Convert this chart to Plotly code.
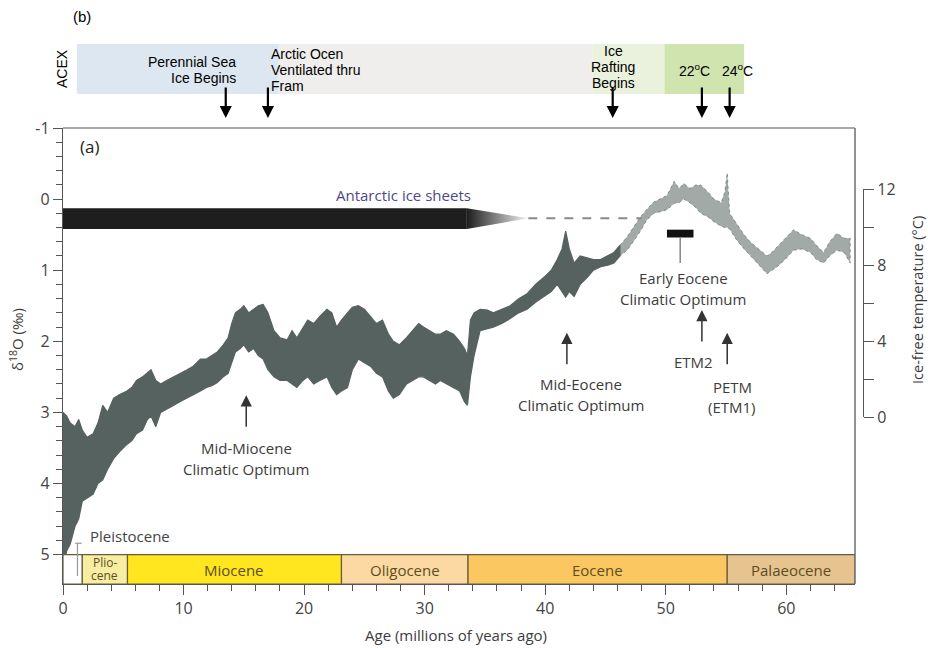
import plotly.graph_objects as go

# ---------------- data ----------------
age = [0.0, 0.3, 0.6, 1.0, 1.3, 1.6, 2.0, 2.5, 2.9, 3.3, 3.7, 4.2, 4.7, 5.3, 5.7, 6.1, 6.6, 7.0,
       7.3, 7.7, 8.1, 8.6, 9.2, 9.7, 10.3, 10.8, 11.4, 11.9, 12.4, 12.8, 13.3, 13.7, 14.0, 14.3,
       14.7, 15.0, 15.4, 15.8, 16.2, 16.6, 17.0, 17.5, 18.0, 18.6, 19.0, 19.4, 19.9, 20.3, 20.8,
       21.3, 21.9, 22.3, 22.7, 23.1, 23.6, 24.0, 24.5, 25.0, 25.5, 26.0, 26.5, 27.0, 27.4, 27.9,
       28.5, 29.0, 29.5, 29.9, 30.4, 30.9, 31.3, 31.8, 32.4, 32.9, 33.3, 33.55, 33.8, 34.1, 34.6,
       35.2, 35.7, 36.4, 37.1, 37.8, 38.5, 39.2, 39.9, 40.5, 41.0, 41.4, 41.7, 42.0, 42.4, 42.9,
       43.5, 44.0, 44.6, 45.2, 45.7, 46.2]
d18o_top = [3.0, 3.05, 3.15, 3.2, 3.1, 3.25, 3.35, 3.3, 3.15, 2.9, 3.0, 2.8, 2.75, 2.7, 2.65, 2.55,
            2.5, 2.45, 2.4, 2.55, 2.6, 2.55, 2.5, 2.45, 2.4, 2.35, 2.25, 2.25, 2.2, 2.15, 2.05, 1.95,
            1.75, 1.6, 1.55, 1.5, 1.6, 1.55, 1.5, 1.48, 1.6, 1.85, 1.95, 1.98, 1.85, 1.95, 1.8, 1.7,
            1.75, 1.65, 1.55, 1.6, 1.8, 1.7, 1.6, 1.52, 1.5, 1.55, 1.65, 1.75, 1.7, 1.9, 2.0, 2.05,
            1.95, 1.85, 1.75, 1.8, 1.85, 1.9, 1.9, 1.85, 1.9, 2.0, 2.1, 2.2, 1.7, 1.6, 1.55, 1.56,
            1.6, 1.55, 1.5, 1.4, 1.33, 1.2, 1.1, 1.0, 0.85, 0.7, 0.45, 0.7, 0.9, 0.8, 0.83, 0.85,
            0.85, 0.8, 0.75, 0.65]
d18o_bottom = [5.2, 4.95, 4.85, 4.6, 4.5, 4.25, 4.2, 4.15, 4.0, 3.95, 3.8, 3.65, 3.55, 3.45, 3.4,
               3.3, 3.25, 3.1, 3.05, 3.2, 3.0, 2.95, 2.9, 2.85, 2.8, 2.75, 2.7, 2.65, 2.62, 2.58,
               2.5, 2.45, 2.3, 2.15, 2.1, 2.05, 2.15, 2.1, 2.2, 2.25, 2.4, 2.5, 2.55, 2.55, 2.6,
               2.65, 2.55, 2.5, 2.6, 2.55, 2.5, 2.65, 2.75, 2.7, 2.65, 2.4, 2.25, 2.3, 2.35, 2.45,
               2.5, 2.7, 2.8, 2.75, 2.6, 2.55, 2.5, 2.5, 2.55, 2.6, 2.55, 2.6, 2.65, 2.7, 2.85, 2.9,
               2.5, 2.2, 1.85, 1.82, 1.8, 1.75, 1.68, 1.6, 1.55, 1.45, 1.37, 1.3, 1.2, 1.3, 1.38,
               1.3, 1.37, 1.2, 1.1, 1.0, 0.95, 0.93, 0.9, 0.8]

age_sparse = [46.2, 46.8, 47.3, 47.9, 48.4, 49.0, 49.5, 50.1, 50.7, 51.1, 51.5, 52.0, 52.5, 52.9,
              53.5, 54.0, 54.6, 54.9, 55.1, 55.3, 55.9, 56.5, 57.0, 57.7, 58.4, 58.8, 59.25, 59.9,
              60.6, 61.3, 62.0, 62.5, 63.1, 63.6, 64.2, 64.8, 65.3]
d18o_top_sparse = [0.65, 0.53, 0.4, 0.25, 0.15, 0.04, 0.0, -0.05, -0.25, -0.15, -0.22, -0.15, -0.2,
                   -0.2, -0.1, 0.0, 0.05, -0.1, -0.37, 0.2, 0.35, 0.5, 0.6, 0.7, 0.8, 0.75, 0.67,
                   0.55, 0.43, 0.5, 0.55, 0.65, 0.75, 0.6, 0.48, 0.55, 0.55]
d18o_bottom_sparse = [0.8, 0.72, 0.6, 0.45, 0.3, 0.2, 0.18, 0.15, 0.06, 0.05, 0.0, 0.05, 0.12, 0.2,
                      0.25, 0.32, 0.38, 0.4, 0.4, 0.42, 0.58, 0.7, 0.8, 0.92, 1.05, 1.0, 0.95, 0.85,
                      0.72, 0.7, 0.75, 0.85, 0.9, 0.8, 0.72, 0.75, 0.9]

# Antarctic ice sheets
ice_full_start, ice_full_end = 0.0, 33.5
ice_taper_end = 38.6
ice_dash_end = 48.0
ice_top, ice_mid, ice_bottom = 0.13, 0.27, 0.42

# Early Eocene Climatic Optimum bar
eeco_start, eeco_end = 50.1, 52.3
eeco_top, eeco_bottom = 0.43, 0.54

# epochs
epoch_names = ["", "Plio-<br>cene", "Miocene", "Oligocene", "Eocene", "Palaeocene"]
epoch_start = [0.0, 1.6, 5.35, 23.1, 33.6, 55.1]
epoch_end = [1.6, 5.35, 23.1, 33.6, 55.1, 65.7]
epoch_colors = ["#ffffff", "#f8eea2", "#ffe61e", "#fcd9a2", "#fbc760", "#e6c38f"]

# ACEX panel (b)
acex_start = [1.15, 17.9, 43.9, 49.9]
acex_end = [17.9, 43.9, 49.9, 56.5]
acex_colors = ["#dde7f1", "#efeeec", "#eaf1dc", "#cfe4ae"]
acex_event_age = [13.5, 17.0, 45.6, 53.0, 55.3]

# climate-event arrows (age, delta18O of arrow head)
event_age = [15.2, 41.8, 53.0, 55.1]
event_head = [2.76, 1.88, 1.56, 1.88]

# axis ticks
d18o_ticks = [-1, 0, 1, 2, 3, 4, 5]
d18o_ticklabels = ["-1", "0", "1", "2", "3", "4", "5"]
temp_ticks = [0, 2, 4, 6, 8, 10, 12]
temp_ticklabels = ["0", "", "4", "", "8", "", "12"]

# ---------------- layout helpers ----------------
W, H = 928, 648
ML, MR, MT, MB = 63, 48, 128, 64
PW, PH = W - ML - MR, H - MT - MB
AGE_MAX = 65.7
Y_MIN, Y_MAX = -1.0, 5.413
XDOM = (855 - ML) / PW


def px(xp):
    return (xp - ML) / PW


def py(yp):
    return (MT + PH - yp) / PH


DATA_COLOR = "#56625f"
TXT = "#3c3c3c"
MAINFONT = "Open Sans"
ARIAL = "Liberation Sans"

fig = go.Figure()

# dense record
fig.add_trace(go.Scatter(
    x=age + age[::-1], y=d18o_top + d18o_bottom[::-1], fill="toself",
    fillcolor=DATA_COLOR, line=dict(color=DATA_COLOR, width=1.2),
    mode="lines", hoverinfo="skip", showlegend=False))
# sparse record
fig.add_trace(go.Scatter(
    x=age_sparse + age_sparse[::-1], y=d18o_top_sparse + d18o_bottom_sparse[::-1], fill="toself",
    fillcolor="rgba(86,98,95,0.55)", line=dict(color="rgba(86,98,95,0.6)", width=1, dash="dot"),
    mode="lines", hoverinfo="skip", showlegend=False))

# ice sheet taper with gradient
fig.add_trace(go.Scatter(
    x=[ice_full_end, ice_taper_end, ice_full_end, ice_full_end],
    y=[ice_top, ice_mid, ice_bottom, ice_top], fill="toself", mode="lines",
    line=dict(width=0, color="rgba(0,0,0,0)"),
    fillgradient=dict(type="horizontal", colorscale=[[0, "#1e1e1e"], [1, "#f2f2f2"]],
                      start=ice_full_end, stop=ice_taper_end),
    hoverinfo="skip", showlegend=False))
# dashed continuation
fig.add_trace(go.Scatter(
    x=[ice_taper_end, ice_dash_end], y=[ice_mid, ice_mid], mode="lines",
    line=dict(color="#8a8a8a", width=2, dash="dash"), hoverinfo="skip", showlegend=False))

# dummy trace for temperature axis
fig.add_trace(go.Scatter(x=[None], y=[None], yaxis="y2", showlegend=False, hoverinfo="skip"))

shapes = []
# ice sheet full bar
shapes.append(dict(type="rect", xref="x", yref="y", x0=ice_full_start, x1=ice_full_end,
                   y0=ice_top, y1=ice_bottom, fillcolor="#1e1e1e", line=dict(width=0)))
# EECO bar + stem
shapes.append(dict(type="rect", xref="x", yref="y", x0=eeco_start, x1=eeco_end,
                   y0=eeco_top, y1=eeco_bottom, fillcolor="#111111", line=dict(width=0)))
eeco_mid = (eeco_start + eeco_end) / 2
shapes.append(dict(type="line", xref="x", yref="y", x0=eeco_mid, x1=eeco_mid,
                   y0=eeco_bottom, y1=0.9, line=dict(color="#888", width=1.5)))
# epochs
for s, e, c in zip(epoch_start, epoch_end, epoch_colors):
    shapes.append(dict(type="rect", xref="x", yref="y", x0=s, x1=e, y0=5.0, y1=Y_MAX,
                       fillcolor=c, line=dict(color="#6b5a3c", width=1.2), layer="above"))
# pleistocene bracket
shapes.append(dict(type="line", xref="x", yref="y", x0=1.2, x1=1.2, y0=4.84, y1=5.3,
                   line=dict(color="#999", width=1.2), layer="above"))
shapes.append(dict(type="line", xref="x", yref="y", x0=1.0, x1=1.55, y0=4.84, y1=4.84,
                   line=dict(color="#999", width=1.2), layer="above"))
# frame top/right
shapes.append(dict(type="line", xref="paper", yref="paper", x0=0, x1=XDOM, y0=1, y1=1,
                   line=dict(color="#8c8c8c", width=1.5)))
shapes.append(dict(type="line", xref="paper", yref="paper", x0=XDOM, x1=XDOM, y0=0, y1=1,
                   line=dict(color="#6e6e6e", width=1.5)))
# ACEX boxes
for s, e, c in zip(acex_start, acex_end, acex_colors):
    shapes.append(dict(type="rect", xref="x", yref="paper", x0=s, x1=e, y0=py(94), y1=py(44),
                       fillcolor=c, line=dict(width=0)))

ann = []


def add_lines(lines, x, y0, dy, size, color=TXT, family=MAINFONT, xanchor="center", xref="paper",
              angle=0):
    for i, t in enumerate(lines):
        ann.append(dict(text=t, x=x, y=py(y0 + i * dy), xref=xref, yref="paper",
                        showarrow=False, xanchor=xanchor, yanchor="middle", textangle=angle,
                        font=dict(size=size, color=color, family=family)))


# ACEX arrows
for a in acex_event_age:
    ann.append(dict(x=a, y=py(118), xref="x", yref="paper", text="", showarrow=True,
                    ax=0, ay=-32, arrowhead=2, arrowsize=1.1, arrowwidth=2.2, arrowcolor="#000"))
# climate event arrows
for a, h in zip(event_age, event_head):
    ann.append(dict(x=a, y=h, xref="x", yref="y", text="", showarrow=True,
                    ax=0, ay=33, arrowhead=2, arrowsize=1.5, arrowwidth=1.5, arrowcolor="#333"))

# panel b text
add_lines(["(b)"], px(82), 17, 0, 15, "#000", ARIAL)
add_lines(["ACEX"], px(62), 69, 0, 14, "#000", ARIAL, angle=-90)
add_lines(["Perennial Sea", "Ice Begins"], px(238), 62, 16, 14, "#000", ARIAL, "right")
add_lines(["Arctic Ocen", "Ventilated thru", "Fram"], px(269), 54, 16, 14, "#000", ARIAL, "left")
add_lines(["Ice", "Rafting", "Begins"], px(613), 51, 16, 14, "#000", ARIAL)
add_lines(["22<sup>o</sup>C"], px(694), 70, 0, 14, "#000", ARIAL)
add_lines(["24<sup>o</sup>C"], px(737), 70, 0, 14, "#000", ARIAL)

# panel a text
add_lines(["(a)"], px(89), 147, 0, 17, "#222")
add_lines(["Antarctic ice sheets"], px(403), 195, 0, 15, "#4b4a86")
add_lines(["Early Eocene", "Climatic Optimum"], px(683), 278, 21, 15)
add_lines(["ETM2"], px(693), 362, 0, 15)
add_lines(["PETM", "(ETM1)"], px(732), 387, 20, 15)
add_lines(["Mid-Eocene", "Climatic Optimum"], px(581), 384, 21, 15)
add_lines(["Mid-Miocene", "Climatic Optimum"], px(246), 448, 21, 15)
add_lines(["Pleistocene"], px(88), 536, 0, 15, "#444", MAINFONT, "left")

# epoch labels
for n, s, e in zip(epoch_names, epoch_start, epoch_end):
    if not n:
        continue
    if "<br>" in n:
        parts = n.split("<br>")
        for i, p in enumerate(parts):
            ann.append(dict(text=p, x=(s + e) / 2, y=py(562 + i * 13), xref="x", yref="paper",
                            showarrow=False, yanchor="middle",
                            font=dict(size=12, color="#5b4e25", family=MAINFONT)))
    else:
        ann.append(dict(text=n, x=(s + e) / 2, y=py(570), xref="x", yref="paper",
                        showarrow=False, yanchor="middle",
                        font=dict(size=15, color="#5b4e25", family=MAINFONT)))

# axis titles
add_lines(["δ<sup>18</sup>O (‰)"], px(16), 340, 0, 15, TXT, angle=-90)
add_lines(["Ice-free temperature (°C)"], px(917), 300, 0, 14.5, TXT, angle=-90)
add_lines(["Age (millions of years ago)"], px(456), 635, 0, 15, TXT)

minor_y = [round(-1 + 0.2 * i, 1) for i in range(31) if (i % 5) != 0]

fig.update_layout(
    width=W, height=H, margin=dict(l=ML, r=MR, t=MT, b=MB),
    paper_bgcolor="white", plot_bgcolor="rgba(0,0,0,0)",
    font=dict(family=MAINFONT, color=TXT),
    xaxis=dict(domain=[0, XDOM], range=[0, AGE_MAX], showline=True, linecolor="#555",
               linewidth=1.3, ticks="outside", ticklen=10, tickwidth=1.3, tickcolor="#555",
               tick0=0, dtick=10, minor=dict(dtick=2, ticklen=6, tickcolor="#555", tickwidth=1.2),
               tickfont=dict(size=16, color="#444"), showgrid=False, zeroline=False,
               anchor="y"),
    yaxis=dict(domain=[0, 1], range=[Y_MAX, Y_MIN], showline=True, linecolor="#555",
               linewidth=1.3, ticks="outside", ticklen=9, tickwidth=1.3, tickcolor="#555",
               tickmode="array", tickvals=d18o_ticks, ticktext=d18o_ticklabels,
               minor=dict(tickmode="array", tickvals=minor_y, ticklen=6, tickcolor="#555",
                          tickwidth=1.2),
               tickfont=dict(size=16, color="#444"), showgrid=False, zeroline=False,
               anchor="x"),
    yaxis2=dict(domain=[py(417), py(189)], range=[0, 12], anchor="free", position=px(863),
                side="right", showline=True, linecolor="#555", linewidth=1.3, ticks="outside",
                ticklen=10, tickwidth=1.3, tickcolor="#555", tickmode="array",
                tickvals=temp_ticks, ticktext=temp_ticklabels,
                tickfont=dict(size=16, color="#444"), showgrid=False, zeroline=False),
    shapes=shapes, annotations=ann,
)

fig.write_html("out.html", config={"displayModeBar": False},
               post_script="document.body.style.margin='0';")
